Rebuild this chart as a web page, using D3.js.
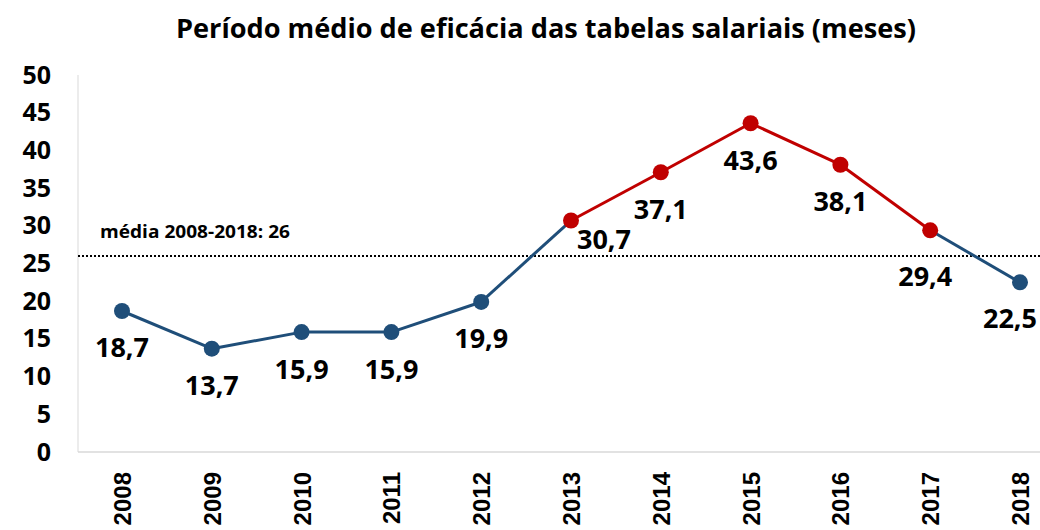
<!DOCTYPE html>
<html>
<head>
<meta charset="utf-8">
<script src="https://cdn.jsdelivr.net/npm/d3@7"></script>
<style>
  body { margin: 0; background: #fff; overflow: hidden; }
  svg { display: block; }
</style>
</head>
<body>
<div id="chart"></div>
<script>
// Chart data
const years = ["2008", "2009", "2010", "2011", "2012", "2013", "2014", "2015", "2016", "2017", "2018"];
const months = [18.7, 13.7, 15.9, 15.9, 19.9, 30.7, 37.1, 43.6, 38.1, 29.4, 22.5];
const highlighted = ["2013", "2014", "2015", "2016", "2017"];
const yTicks = [0, 5, 10, 15, 20, 25, 30, 35, 40, 45, 50];
const average = 26;
const titleText = "Período médio de eficácia das tabelas salariais (meses)";
const averageText = "média 2008-2018: 26";

const width = 1040;
const height = 530;
const blue = "#1f4e79";
const red = "#c00000";
const labelFont = "'Open Sans', 'DejaVu Sans', sans-serif";

const svg = d3.select("#chart").append("svg").attr("width", width).attr("height", height);

// Scales (the plot runs up to the right edge, as in the original)
const x = d3.scalePoint().domain(years).range([122, 1020]);
const y = d3.scaleLinear().domain([0, 50]).range([452, 75]);

// Title
svg
  .append("text")
  .attr("x", 546)
  .attr("y", 38)
  .attr("text-anchor", "middle")
  .attr("font-family", labelFont)
  .attr("font-weight", "bold")
  .attr("font-size", 26)
  .attr("textLength", 740)
  .attr("lengthAdjust", "spacingAndGlyphs")
  .text(titleText);

// Axis lines
svg.append("line").attr("x1", 78).attr("x2", 78).attr("y1", y(50)).attr("y2", y(0)).attr("stroke", "#d9d9d9").attr("stroke-width", 1);
svg.append("line").attr("x1", 78).attr("x2", width).attr("y1", y(0)).attr("y2", y(0)).attr("stroke", "#d9d9d9").attr("stroke-width", 1.5);

// Y tick labels
const yAxis = d3.axisLeft(y).tickValues(yTicks).tickSize(0).tickPadding(0);
const gy = svg.append("g").attr("transform", "translate(51,0)").call(yAxis);
gy.select(".domain").remove();
gy.selectAll("text")
  .attr("font-family", labelFont)
  .attr("font-weight", "bold")
  .attr("font-size", 25)
  .attr("fill", "#000");

// X tick labels, rotated
const xAxis = d3.axisBottom(x).tickSize(0).tickPadding(0);
const gx = svg.append("g").attr("transform", `translate(0,${y(0)})`).call(xAxis);
gx.select(".domain").remove();
gx.selectAll("text")
  .attr("font-family", "'Liberation Sans', Arial, sans-serif")
  .attr("font-weight", "bold")
  .attr("font-size", 24)
  .attr("fill", "#000")
  .attr("text-anchor", "end")
  .attr("transform", "rotate(-90)")
  .attr("x", -20)
  .attr("y", 0)
  .attr("dy", "0.35em");

// Average line
svg
  .append("line")
  .attr("x1", 78)
  .attr("x2", width)
  .attr("y1", y(average))
  .attr("y2", y(average))
  .attr("stroke", "#000")
  .attr("stroke-width", 2)
  .attr("stroke-dasharray", "2,2");

svg
  .append("text")
  .attr("x", 100)
  .attr("y", 238)
  .attr("font-family", labelFont)
  .attr("font-weight", "bold")
  .attr("font-size", 17)
  .attr("textLength", 190)
  .attr("lengthAdjust", "spacingAndGlyphs")
  .text(averageText);

// Points
const data = years.map((yr, i) => ({ year: yr, value: months[i], hot: highlighted.includes(yr) }));

// Line segments, red when both ends are highlighted
const segments = d3.pairs(data);
svg
  .append("g")
  .selectAll("line")
  .data(segments)
  .enter()
  .append("line")
  .attr("x1", (d) => x(d[0].year))
  .attr("y1", (d) => y(d[0].value))
  .attr("x2", (d) => x(d[1].year))
  .attr("y2", (d) => y(d[1].value))
  .attr("stroke", (d) => (d[0].hot && d[1].hot ? red : blue))
  .attr("stroke-width", 3);

svg
  .append("g")
  .selectAll("circle")
  .data(data)
  .enter()
  .append("circle")
  .attr("cx", (d) => x(d.year))
  .attr("cy", (d) => y(d.value))
  .attr("r", 8)
  .attr("fill", (d) => (d.hot ? red : blue));

// Data labels (mostly below the point; a couple nudged like the original)
function labelOffset(d) {
  if (d.year === "2013") return [33, 19];
  if (d.year === "2017") return [-5, 46];
  if (d.year === "2018") return [-10, 36];
  return [0, 37];
}

svg
  .append("g")
  .selectAll("text")
  .data(data)
  .enter()
  .append("text")
  .attr("x", (d) => x(d.year) + labelOffset(d)[0])
  .attr("y", (d) => y(d.value) + labelOffset(d)[1])
  .attr("dy", "0.35em")
  .attr("text-anchor", "middle")
  .attr("font-family", labelFont)
  .attr("font-weight", "bold")
  .attr("font-size", 27)
  .attr("fill", "#000")
  .text((d) => d3.format(".1f")(d.value).replace(".", ","));
</script>
</body>
</html>
